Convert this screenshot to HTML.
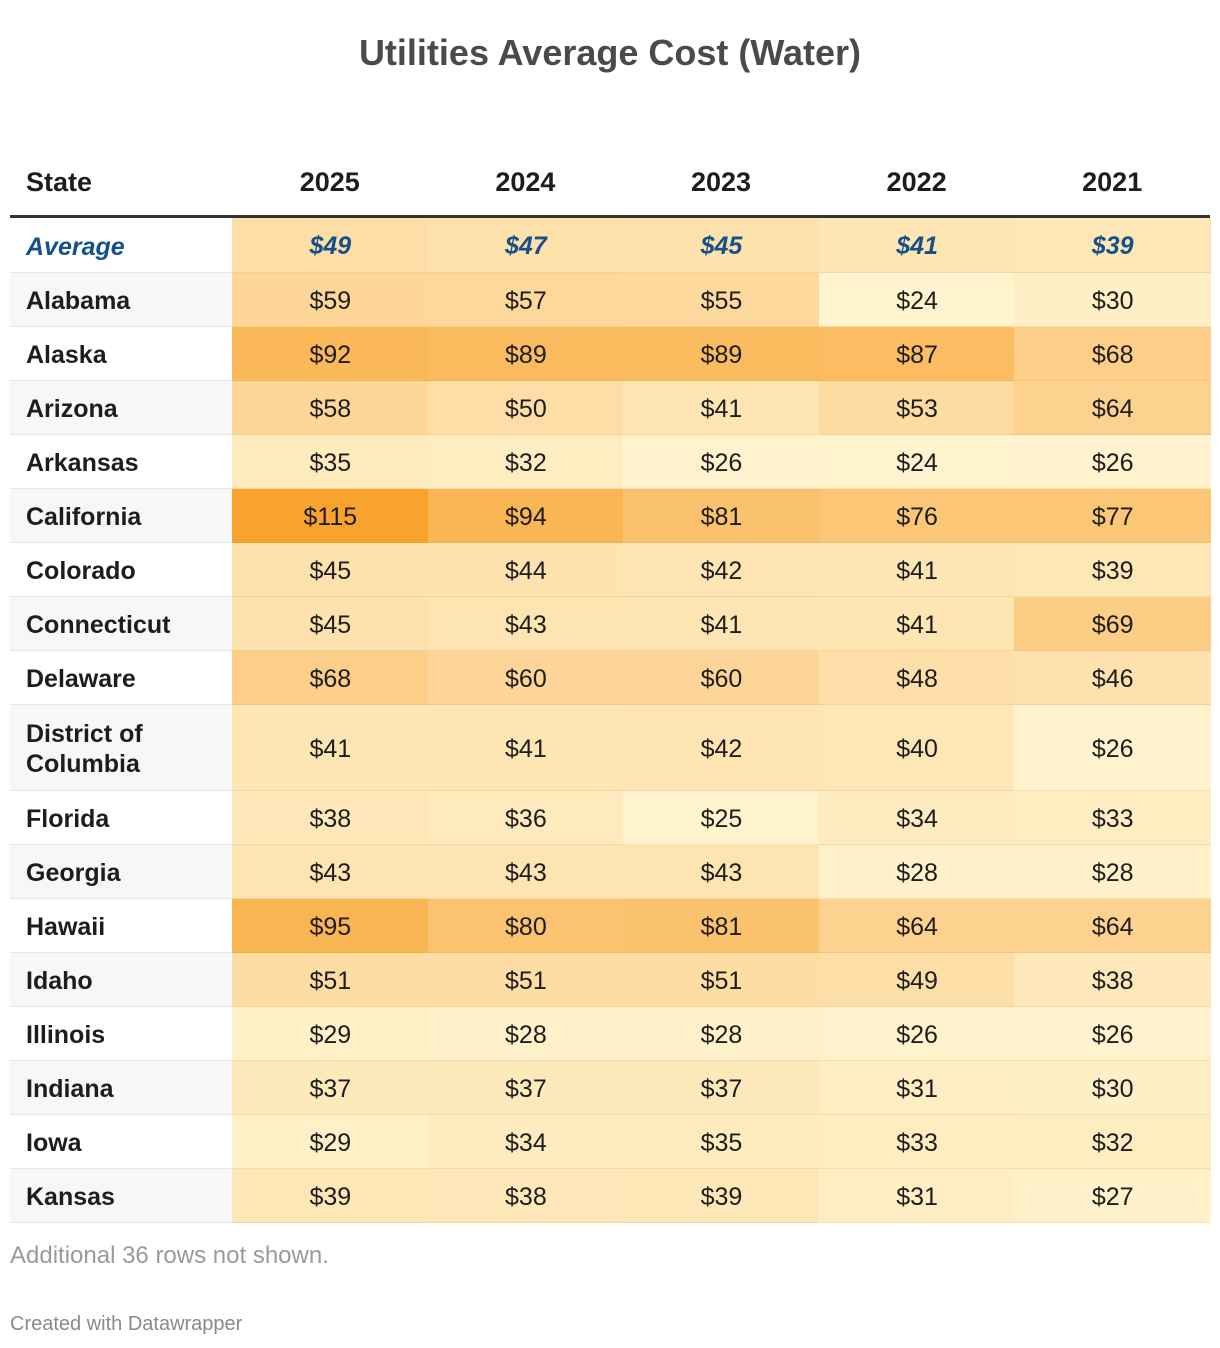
<!DOCTYPE html>
<html><head><meta charset="utf-8">
<style>
body{margin:0;background:#fff;width:1220px;height:1348px;position:relative;font-family:"Liberation Sans",sans-serif;overflow:hidden}
.a{position:absolute;box-sizing:border-box}
#title{left:0;width:1220px;top:32px;text-align:center;font-size:36px;font-weight:bold;color:#4a4a4a}
.hd{font-size:27px;font-weight:bold;color:#1d1d1d;top:167px}
.c{display:flex;align-items:center;justify-content:center;font-size:25px;color:#1d1d1d;border-bottom:1px solid rgba(200,150,60,0.18);padding-top:3px}
.s{display:flex;align-items:center;padding-left:16px;padding-top:3px;font-size:25px;font-weight:bold;color:#1d1d1d;border-bottom:1px solid #e6e6e6;line-height:30px}
</style></head><body>
<div id="title" class="a">Utilities Average Cost (Water)</div>
<div id="tbl"></div>
<div class="a" style="left:10px;top:1242px;font-size:24px;color:#9a9a9a">Additional 36 rows not shown.</div>
<div class="a" style="left:10px;top:1313px;font-size:20px;color:#8a8a8a">Created with Datawrapper</div>
<script>
const years=["2025","2024","2023","2022","2021"];
const states=["Alabama","Alaska","Arizona","Arkansas","California","Colorado","Connecticut","Delaware","District of Columbia","Florida","Georgia","Hawaii","Idaho","Illinois","Indiana","Iowa","Kansas"];
const averages=[49,47,45,41,39];
const v2025=[59,92,58,35,115,45,45,68,41,38,43,95,51,29,37,29,39];
const v2024=[57,89,50,32,94,44,43,60,41,36,43,80,51,28,37,34,38];
const v2023=[55,89,41,26,81,42,41,60,42,25,43,81,51,28,37,35,39];
const v2022=[24,87,53,24,76,41,41,48,40,34,28,64,49,26,31,33,31];
const v2021=[30,68,64,26,77,39,69,46,26,33,28,64,38,26,30,32,27];
const cols=[v2025,v2024,v2023,v2022,v2021];
const T=document.getElementById('tbl');
const stops=[[24,[255,244,207]],[60,[253,213,150]],[115,[248,163,45]]];
function color(v){
  let a=stops[0],b=stops[1];
  if(v>stops[1][0]){a=stops[1];b=stops[2];}
  let t=Math.max(0,Math.min(1,(v-a[0])/(b[0]-a[0])));
  const c=a[1].map((x,i)=>Math.round(x+(b[1][i]-x)*t));
  return 'rgb('+c.join(',')+')';
}
const X0=232,CW=195.6;
function mk(cls,style,txt){const d=document.createElement('div');d.className='a '+cls;d.style.cssText=style;d.innerHTML=txt;T.appendChild(d);return d;}
const hs=mk('hd','left:26px','State');


years.forEach((y,i)=>{
  const e=mk('hd',`left:${X0+i*CW}px;width:${CW}px;text-align:center`,y);
  
  
});
const ln=mk('','left:10px;top:215px;width:1200px;height:3px;background:#333','');


let rowTop=218;
const sa=mk('s',`left:10px;top:${rowTop}px;width:222px;height:55px;font-style:italic;color:#15508a;background:#fff`,'Average');


averages.forEach((v,i)=>{
  const e=mk('c',`left:${X0+i*CW}px;top:${rowTop}px;width:${CW+1}px;height:55px;background:${color(v)};font-weight:bold;font-style:italic;color:#15508a`,'$'+v);
  
  
});
rowTop=273;
states.forEach((s,r)=>{
  const hh=s.length>15?86:54;
  const bg=r%2===0?'#f7f7f7':'#fff';
  const se=mk('s',`left:10px;top:${rowTop}px;width:222px;height:${hh}px;background:${bg}`,s.replace('District of ','District of<br>'));
  
  
  cols.forEach((col,i)=>{
    const e=mk('c',`left:${X0+i*CW}px;top:${rowTop}px;width:${CW+1}px;height:${hh}px;background:${color(col[r])}`,'$'+col[r]);
    
    
  });
  rowTop+=hh;
});
</script>
</body></html>
